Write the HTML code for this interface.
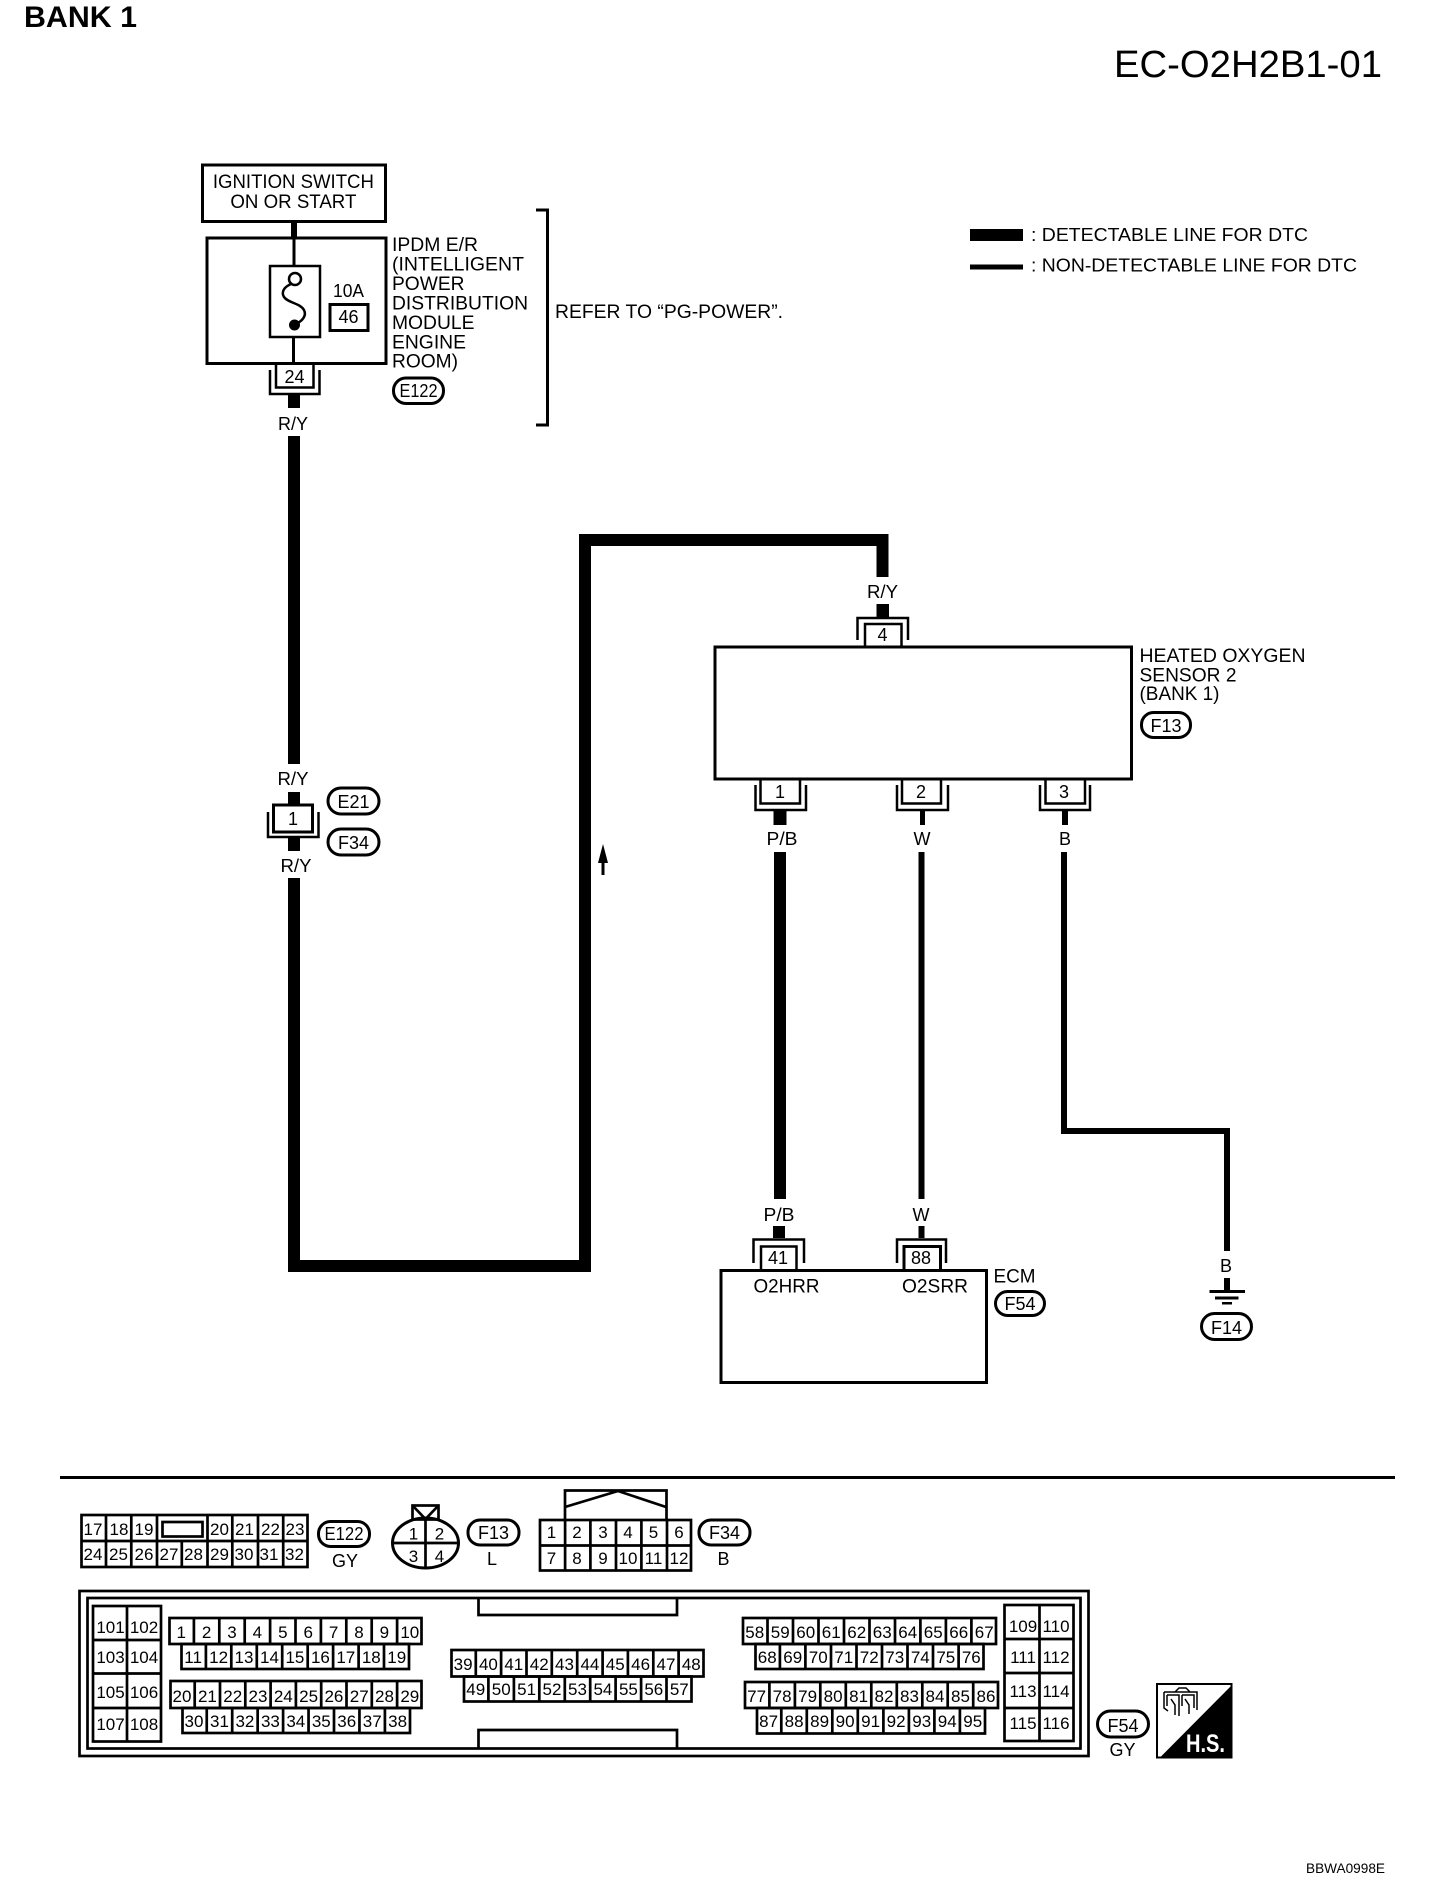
<!DOCTYPE html>
<html>
<head>
<meta charset="utf-8">
<title>EC-O2H2B1-01</title>
<style>
html,body{margin:0;padding:0;background:#fff;width:1440px;height:1904px;overflow:hidden}
svg{display:block}
text{font-family:"Liberation Sans",sans-serif;fill:#000}
.m{text-anchor:middle}
.n text{font-size:17px;text-anchor:middle}
.l{font-size:19px}
.c{font-size:18px;text-anchor:middle}
.g path,.g rect,.g ellipse{fill:none;stroke:#000;stroke-width:2.7}
.p{fill:#fff;stroke:#000;stroke-width:3}
</style>
</head>
<body>
<svg xmlns="http://www.w3.org/2000/svg" width="1440" height="1904" viewBox="0 0 1440 1904">
<rect width="1440" height="1904" fill="#fff"/>

<!-- Titles -->
<text x="24" y="27" font-size="30" font-weight="bold" textLength="113" lengthAdjust="spacingAndGlyphs">BANK 1</text>
<text x="1114" y="77" font-size="38" textLength="268" lengthAdjust="spacingAndGlyphs">EC-O2H2B1-01</text>

<!-- Legend -->
<rect x="970" y="229" width="53" height="12"/>
<rect x="970" y="264.5" width="53" height="5"/>
<text x="1031" y="241" font-size="18.5" textLength="277" lengthAdjust="spacingAndGlyphs">: DETECTABLE LINE FOR DTC</text>
<text x="1031" y="271.5" font-size="18.5" textLength="326" lengthAdjust="spacingAndGlyphs">: NON-DETECTABLE LINE FOR DTC</text>

<!-- Ignition switch -->
<rect x="202.5" y="165" width="183" height="56.5" fill="#fff" stroke="#000" stroke-width="3"/>
<text x="293.4" y="188" class="l m" textLength="161" lengthAdjust="spacingAndGlyphs">IGNITION SWITCH</text>
<text x="293.4" y="208" class="l m" textLength="126" lengthAdjust="spacingAndGlyphs">ON OR START</text>
<rect x="291" y="222" width="6" height="16"/>

<!-- IPDM -->
<rect x="207" y="238" width="179" height="125.5" fill="#fff" stroke="#000" stroke-width="3"/>
<rect x="292.5" y="238" width="3" height="28"/>
<rect x="270" y="266" width="50" height="71" fill="#fff" stroke="#000" stroke-width="2.5"/>
<rect x="292" y="337" width="3" height="27"/>
<circle cx="295" cy="279" r="6" fill="#fff" stroke="#000" stroke-width="2.5"/>
<path d="M291 284C284 287 281 292 284 297C288 303 300 303 304 310C307 316 302 321 296 324" fill="none" stroke="#000" stroke-width="2.5"/>
<circle cx="294.5" cy="325" r="5.5"/>
<text x="348.5" y="297" class="c" textLength="31" lengthAdjust="spacingAndGlyphs">10A</text>
<rect x="330" y="304.5" width="38" height="26" fill="#fff" stroke="#000" stroke-width="3"/>
<text x="348.5" y="323" class="c">46</text>

<!-- Connector 24 -->
<path d="M270 370V394H319.5V370" fill="none" stroke="#000" stroke-width="2.5"/>
<path d="M276 364V387.5H313.5V364" fill="none" stroke="#000" stroke-width="2.5"/>
<text x="294.5" y="383" class="c">24</text>
<rect x="288" y="395" width="12" height="13"/>
<text x="293" y="430" class="c" textLength="30" lengthAdjust="spacingAndGlyphs">R/Y</text>

<!-- IPDM label -->
<text x="392" y="251" class="l" textLength="86" lengthAdjust="spacingAndGlyphs">IPDM E/R</text>
<text x="392" y="270.5" class="l" textLength="132" lengthAdjust="spacingAndGlyphs">(INTELLIGENT</text>
<text x="392" y="290" class="l" textLength="72.5" lengthAdjust="spacingAndGlyphs">POWER</text>
<text x="392" y="309.5" class="l" textLength="136" lengthAdjust="spacingAndGlyphs">DISTRIBUTION</text>
<text x="392" y="329" class="l" textLength="82.5" lengthAdjust="spacingAndGlyphs">MODULE</text>
<text x="392" y="348.5" class="l" textLength="74" lengthAdjust="spacingAndGlyphs">ENGINE</text>
<text x="392" y="367.5" class="l" textLength="66" lengthAdjust="spacingAndGlyphs">ROOM)</text>
<rect x="393.5" y="378" width="50" height="25.5" rx="12.5" class="p"/>
<text x="418.5" y="397" class="c" textLength="38" lengthAdjust="spacingAndGlyphs">E122</text>

<!-- Bracket -->
<path d="M536 210H547.5V425H536" fill="none" stroke="#000" stroke-width="3"/>
<text x="555" y="318" class="l" textLength="228" lengthAdjust="spacingAndGlyphs">REFER TO “PG-POWER”.</text>

<!-- Main thick wire -->
<rect x="288" y="436" width="12" height="328"/>
<rect x="288" y="792" width="12" height="13"/>
<rect x="288" y="838" width="12" height="13"/>
<path d="M294 878V1266H585V540H882.5V577" fill="none" stroke="#000" stroke-width="12" stroke-linejoin="miter"/>

<!-- Inline connector 1 -->
<text x="293" y="785" class="c" textLength="31" lengthAdjust="spacingAndGlyphs">R/Y</text>
<path d="M268 812V837H318.5V812" fill="none" stroke="#000" stroke-width="2.5"/>
<rect x="273.5" y="805" width="39" height="27" fill="#fff" stroke="#000" stroke-width="3"/>
<text x="293" y="825" class="c">1</text>
<text x="296" y="872" class="c" textLength="31" lengthAdjust="spacingAndGlyphs">R/Y</text>
<rect x="328" y="788" width="51" height="26" rx="13" class="p"/>
<text x="353.5" y="808" class="c">E21</text>
<rect x="328" y="829" width="51" height="26" rx="13" class="p"/>
<text x="353.5" y="849" class="c">F34</text>

<!-- Arrow -->
<path d="M603 844L608 863H604.5V875H601.5V863H598Z"/>

<!-- R/Y top of sensor -->
<text x="882.5" y="598" class="c" textLength="31" lengthAdjust="spacingAndGlyphs">R/Y</text>
<rect x="876.5" y="604" width="12.5" height="13"/>
<path d="M857.5 640V618H908V640" fill="none" stroke="#000" stroke-width="2.5"/>
<path d="M865 647V624H901.5V647" fill="none" stroke="#000" stroke-width="2.5"/>
<text x="882.5" y="641" class="c">4</text>

<!-- Sensor box -->
<rect x="715" y="647" width="416.5" height="132" fill="#fff" stroke="#000" stroke-width="3"/>
<text x="1139.5" y="662" class="l" textLength="166" lengthAdjust="spacingAndGlyphs">HEATED OXYGEN</text>
<text x="1139.5" y="681.5" class="l" textLength="97" lengthAdjust="spacingAndGlyphs">SENSOR 2</text>
<text x="1139.5" y="700" class="l" textLength="80" lengthAdjust="spacingAndGlyphs">(BANK 1)</text>
<rect x="1141.5" y="712.5" width="49" height="25" rx="12" class="p"/>
<text x="1166" y="732" class="c">F13</text>

<!-- Sensor bottom connectors -->
<path d="M755.5 785V810H806V785" fill="none" stroke="#000" stroke-width="2.5"/>
<path d="M760.5 780V803.5H800V780" fill="none" stroke="#000" stroke-width="2.5"/>
<text x="780" y="798" class="c">1</text>
<path d="M897 785V810H948V785" fill="none" stroke="#000" stroke-width="2.5"/>
<path d="M902 780V803.5H941V780" fill="none" stroke="#000" stroke-width="2.5"/>
<text x="921" y="798" class="c">2</text>
<path d="M1040 785V810H1090V785" fill="none" stroke="#000" stroke-width="2.5"/>
<path d="M1045.5 780V803.5H1085V780" fill="none" stroke="#000" stroke-width="2.5"/>
<text x="1064" y="798" class="c">3</text>

<rect x="773.5" y="811" width="13" height="14"/>
<rect x="920" y="811" width="5" height="14"/>
<rect x="1062" y="811" width="6" height="14"/>
<text x="782" y="845" class="c" textLength="31" lengthAdjust="spacingAndGlyphs">P/B</text>
<text x="922" y="845" class="c">W</text>
<text x="1065" y="845" class="c">B</text>

<!-- Wires to ECM and ground -->
<rect x="774" y="852" width="12" height="347"/>
<rect x="918.5" y="852" width="6" height="347"/>
<path d="M1064 852V1131H1227V1251" fill="none" stroke="#000" stroke-width="6"/>
<text x="779" y="1221" class="c" textLength="31" lengthAdjust="spacingAndGlyphs">P/B</text>
<text x="921" y="1221" class="c">W</text>
<rect x="773" y="1226" width="12" height="12"/>
<rect x="918.5" y="1226" width="6" height="12"/>

<path d="M753.5 1263V1239.5H804V1263" fill="none" stroke="#000" stroke-width="2.5"/>
<path d="M761 1270V1246.5H796.5V1270" fill="none" stroke="#000" stroke-width="2.5"/>
<text x="778" y="1264" class="c">41</text>
<path d="M897 1263V1239.5H946V1263" fill="none" stroke="#000" stroke-width="2.5"/>
<path d="M904 1270V1246.5H940.5V1270" fill="none" stroke="#000" stroke-width="3"/>
<text x="921" y="1264" class="c">88</text>

<!-- ECM -->
<rect x="721" y="1270.5" width="265.5" height="112" fill="#fff" stroke="#000" stroke-width="3"/>
<text x="786.5" y="1292.5" class="l m" textLength="66" lengthAdjust="spacingAndGlyphs">O2HRR</text>
<text x="935" y="1292.5" class="l m" textLength="66" lengthAdjust="spacingAndGlyphs">O2SRR</text>
<text x="993.5" y="1282.5" class="l" textLength="42" lengthAdjust="spacingAndGlyphs">ECM</text>
<rect x="995.5" y="1291.5" width="49" height="24" rx="12" class="p"/>
<text x="1020" y="1310" class="c">F54</text>

<!-- Ground -->
<text x="1226" y="1272" class="c">B</text>
<rect x="1224" y="1278" width="6" height="13"/>
<rect x="1209.5" y="1290" width="35.5" height="3"/>
<rect x="1215" y="1296.5" width="23.5" height="3"/>
<rect x="1222" y="1302" width="10" height="2.5"/>
<rect x="1201.5" y="1313.5" width="50" height="26" rx="13" class="p"/>
<text x="1226.5" y="1334" class="c">F14</text>

<!-- Divider -->
<rect x="60" y="1476" width="1335" height="3"/>

<!-- E122 connector -->
<g class="g">
<rect x="81.5" y="1515" width="226" height="52"/>
<path d="M81.5 1541H307.5M106 1515V1567M131.3 1515V1567M157 1515V1567M181.8 1541V1567M207.5 1515V1567M232.3 1515V1567M258 1515V1567M283.2 1515V1567"/>
<rect x="162.5" y="1522" width="40" height="14.5" stroke-width="3"/>
</g>
<g class="n">
<text x="93" y="1535">17</text><text x="119" y="1535">18</text><text x="144" y="1535">19</text><text x="219.5" y="1535">20</text><text x="244.5" y="1535">21</text><text x="270.5" y="1535">22</text><text x="295" y="1535">23</text>
<text x="93" y="1560">24</text><text x="118.5" y="1560">25</text><text x="144" y="1560">26</text><text x="169" y="1560">27</text><text x="193.5" y="1560">28</text><text x="219.5" y="1560">29</text><text x="244" y="1560">30</text><text x="269" y="1560">31</text><text x="294.5" y="1560">32</text>
</g>
<rect x="318.5" y="1521.5" width="51" height="25" rx="12" class="p"/>
<text x="344" y="1540" class="c" textLength="39" lengthAdjust="spacingAndGlyphs">E122</text>
<text x="345" y="1567" class="c" font-size="20">GY</text>

<!-- F13 connector -->
<g class="g">
<rect x="412.5" y="1505.5" width="26" height="14"/>
<path d="M412.5 1505.5L425.5 1519L438.5 1505.5"/>
<ellipse cx="425.5" cy="1543" rx="33" ry="25" style="stroke-width:3"/>
<path d="M425.5 1518V1568M392.5 1543H458.5"/>
</g>
<g class="n">
<text x="413.5" y="1539.5">1</text><text x="439.5" y="1539.5">2</text><text x="413.5" y="1562">3</text><text x="439.5" y="1562">4</text>
</g>
<rect x="468" y="1520" width="51" height="25" rx="12" class="p"/>
<text x="493.5" y="1539" class="c">F13</text>
<text x="492" y="1565" class="c">L</text>

<!-- F34 connector -->
<g class="g">
<path d="M565 1519V1490.5H666.5V1519M565 1507L618 1491L666 1507"/>
<rect x="540" y="1520" width="151" height="50.5"/>
<path d="M540 1545.5H691M565.1 1520V1570.5M590.4 1520V1570.5M616 1520V1570.5M641.4 1520V1570.5M667 1520V1570.5"/>
</g>
<g class="n">
<text x="551.5" y="1538">1</text><text x="577" y="1538">2</text><text x="603" y="1538">3</text><text x="628" y="1538">4</text><text x="653.5" y="1538">5</text><text x="679" y="1538">6</text>
<text x="551.5" y="1564">7</text><text x="577" y="1564">8</text><text x="603" y="1564">9</text><text x="628" y="1564">10</text><text x="653.5" y="1564">11</text><text x="679" y="1564">12</text>
</g>
<rect x="699" y="1520" width="51" height="25" rx="12" class="p"/>
<text x="724.5" y="1539" class="c">F34</text>
<text x="723.5" y="1565" class="c">B</text>

<!-- F54 connector housing -->
<g class="g">
<rect x="79.5" y="1591" width="1009" height="165" stroke-width="3"/>
<rect x="87.5" y="1598" width="993" height="150.5" stroke-width="3"/>
<path d="M478.5 1598V1615H677V1598M478.5 1748V1730H677V1748"/>

<!-- Left block -->
<rect x="93" y="1606" width="68" height="135.5" stroke-width="3"/>
<path d="M127 1606V1741.5M93 1640H161M93 1673.5H161M93 1708H161"/>

<!-- Right block -->
<rect x="1004.5" y="1605" width="69" height="136" stroke-width="3"/>
<path d="M1039.5 1605V1741M1004.5 1639H1073.5M1004.5 1673H1073.5M1004.5 1708H1073.5"/>

<!-- A -->
<rect x="169.5" y="1618" width="252" height="26"/>
<rect x="181.5" y="1644" width="227.5" height="25"/>
<path d="M193.9 1618V1644M219.3 1618V1644M244.7 1618V1644M270.1 1618V1644M295.5 1618V1644M320.9 1618V1644M346.3 1618V1644M371.7 1618V1644M397.1 1618V1644"/>
<path d="M205.9 1644V1669M231.3 1644V1669M256.8 1644V1669M282.2 1644V1669M307.7 1644V1669M333.1 1644V1669M358.6 1644V1669M384 1644V1669"/>
<!-- B -->
<rect x="170.5" y="1681" width="251" height="27"/>
<rect x="182.5" y="1708" width="227.5" height="25"/>
<path d="M194.7 1681V1708M220 1681V1708M245.3 1681V1708M270.6 1681V1708M295.9 1681V1708M321.2 1681V1708M346.5 1681V1708M371.8 1681V1708M397.1 1681V1708"/>
<path d="M206.75 1708V1733M232.2 1708V1733M257.65 1708V1733M283.1 1708V1733M308.55 1708V1733M334 1708V1733M359.45 1708V1733M384.9 1708V1733"/>
<!-- C -->
<rect x="451.5" y="1650" width="252" height="26.5"/>
<rect x="464" y="1676.5" width="227.5" height="25"/>
<path d="M475.8 1650V1676.5M501.1 1650V1676.5M526.5 1650V1676.5M551.8 1650V1676.5M577.2 1650V1676.5M602.6 1650V1676.5M627.9 1650V1676.5M653.3 1650V1676.5M678.6 1650V1676.5"/>
<path d="M488.4 1676.5V1701.5M513.9 1676.5V1701.5M539.3 1676.5V1701.5M564.8 1676.5V1701.5M590.2 1676.5V1701.5M615.6 1676.5V1701.5M641.1 1676.5V1701.5M666.5 1676.5V1701.5"/>
<!-- D -->
<rect x="743" y="1618" width="253" height="26"/>
<rect x="755.5" y="1644" width="228" height="25"/>
<path d="M767.5 1618V1644M793 1618V1644M818.5 1618V1644M844 1618V1644M869.5 1618V1644M895 1618V1644M920.4 1618V1644M945.9 1618V1644M971.4 1618V1644"/>
<path d="M779.9 1644V1669M805.4 1644V1669M831 1644V1669M856.5 1644V1669M882 1644V1669M907.5 1644V1669M933 1644V1669M958.6 1644V1669"/>
<!-- E -->
<rect x="745" y="1682" width="253" height="26"/>
<rect x="757" y="1708" width="228" height="25.5"/>
<path d="M769.4 1682V1708M794.9 1682V1708M820.3 1682V1708M845.8 1682V1708M871.3 1682V1708M896.8 1682V1708M922.3 1682V1708M947.7 1682V1708M973.2 1682V1708"/>
<path d="M781.3 1708V1733.5M806.8 1708V1733.5M832.3 1708V1733.5M857.8 1708V1733.5M883.4 1708V1733.5M908.9 1708V1733.5M934.4 1708V1733.5M959.9 1708V1733.5"/>
</g>

<g class="n">
<!-- Left block labels -->
<text x="110.5" y="1633">101</text><text x="144" y="1633">102</text>
<text x="110.5" y="1663">103</text><text x="144" y="1663">104</text>
<text x="110.5" y="1698">105</text><text x="144" y="1698">106</text>
<text x="110.5" y="1730">107</text><text x="144" y="1730">108</text>
<!-- Right block labels -->
<text x="1023" y="1632">109</text><text x="1056" y="1632">110</text>
<text x="1023" y="1663">111</text><text x="1056" y="1663">112</text>
<text x="1023" y="1697">113</text><text x="1056" y="1697">114</text>
<text x="1023" y="1729">115</text><text x="1056" y="1729">116</text>
<!-- A1 -->
<text x="181.2" y="1638">1</text><text x="206.6" y="1638">2</text><text x="232" y="1638">3</text><text x="257.4" y="1638">4</text><text x="282.8" y="1638">5</text><text x="308.2" y="1638">6</text><text x="333.6" y="1638">7</text><text x="359" y="1638">8</text><text x="384.4" y="1638">9</text><text x="409.8" y="1638">10</text>
<!-- A2 -->
<text x="193.1" y="1663">11</text><text x="218.6" y="1663">12</text><text x="244" y="1663">13</text><text x="269.5" y="1663">14</text><text x="294.9" y="1663">15</text><text x="320.4" y="1663">16</text><text x="345.8" y="1663">17</text><text x="371.3" y="1663">18</text><text x="396.7" y="1663">19</text>
<!-- B1 -->
<text x="182" y="1702">20</text><text x="207.4" y="1702">21</text><text x="232.7" y="1702">22</text><text x="258" y="1702">23</text><text x="283.3" y="1702">24</text><text x="308.6" y="1702">25</text><text x="333.9" y="1702">26</text><text x="359.2" y="1702">27</text><text x="384.5" y="1702">28</text><text x="409.8" y="1702">29</text>
<!-- B2 -->
<text x="194" y="1727">30</text><text x="219.5" y="1727">31</text><text x="244.9" y="1727">32</text><text x="270.4" y="1727">33</text><text x="295.8" y="1727">34</text><text x="321.3" y="1727">35</text><text x="346.7" y="1727">36</text><text x="372.2" y="1727">37</text><text x="397.6" y="1727">38</text>
<!-- C1 -->
<text x="463.1" y="1670">39</text><text x="488.4" y="1670">40</text><text x="513.8" y="1670">41</text><text x="539.2" y="1670">42</text><text x="564.5" y="1670">43</text><text x="589.9" y="1670">44</text><text x="615.2" y="1670">45</text><text x="640.6" y="1670">46</text><text x="666" y="1670">47</text><text x="691.3" y="1670">48</text>
<!-- C2 -->
<text x="475.7" y="1695">49</text><text x="501.2" y="1695">50</text><text x="526.6" y="1695">51</text><text x="552" y="1695">52</text><text x="577.5" y="1695">53</text><text x="602.9" y="1695">54</text><text x="628.4" y="1695">55</text><text x="653.8" y="1695">56</text><text x="679.3" y="1695">57</text>
<!-- D1 -->
<text x="754.7" y="1638">58</text><text x="780.2" y="1638">59</text><text x="805.7" y="1638">60</text><text x="831.2" y="1638">61</text><text x="856.7" y="1638">62</text><text x="882.2" y="1638">63</text><text x="907.7" y="1638">64</text><text x="933.2" y="1638">65</text><text x="958.7" y="1638">66</text><text x="984.2" y="1638">67</text>
<!-- D2 -->
<text x="767.2" y="1663">68</text><text x="792.7" y="1663">69</text><text x="818.2" y="1663">70</text><text x="843.7" y="1663">71</text><text x="869.2" y="1663">72</text><text x="894.7" y="1663">73</text><text x="920.3" y="1663">74</text><text x="945.8" y="1663">75</text><text x="971.3" y="1663">76</text>
<!-- E1 -->
<text x="756.6" y="1702">77</text><text x="782.1" y="1702">78</text><text x="807.6" y="1702">79</text><text x="833.1" y="1702">80</text><text x="858.6" y="1702">81</text><text x="884" y="1702">82</text><text x="909.5" y="1702">83</text><text x="935" y="1702">84</text><text x="960.5" y="1702">85</text><text x="986" y="1702">86</text>
<!-- E2 -->
<text x="768.6" y="1727">87</text><text x="794.1" y="1727">88</text><text x="819.6" y="1727">89</text><text x="845.1" y="1727">90</text><text x="870.6" y="1727">91</text><text x="896.1" y="1727">92</text><text x="921.7" y="1727">93</text><text x="947.2" y="1727">94</text><text x="972.7" y="1727">95</text>
</g>

<!-- F54 tag -->
<rect x="1097.5" y="1711" width="51" height="26" rx="13" class="p"/>
<text x="1123" y="1732" class="c" font-size="19">F54</text>
<text x="1122.5" y="1756" class="c" font-size="20">GY</text>

<!-- H.S. icon -->
<rect x="1157" y="1684" width="74.5" height="73.5" fill="#fff" stroke="#000" stroke-width="2"/>
<path d="M1231.5 1685.5L1231.5 1757.5L1160 1757.5Z"/>
<text x="1186" y="1752" font-size="25" font-weight="bold" textLength="39" lengthAdjust="spacingAndGlyphs" style="fill:#fff">H.S.</text>
<g fill="none" stroke="#000" stroke-width="1.5">
<path d="M1164 1692H1197V1700M1164 1692V1708L1168 1711M1197 1700V1710"/>
<path d="M1175 1692L1179 1688H1186L1190 1692"/>
<path d="M1167 1695V1706M1167 1695H1179V1706M1182 1695H1194V1708M1182 1695V1706"/>
<path d="M1171 1699L1175 1705V1715M1185 1699L1189 1705V1714M1179 1706V1716"/>
</g>

<!-- Footer -->
<text x="1306" y="1873" font-size="13.5" textLength="79" lengthAdjust="spacingAndGlyphs">BBWA0998E</text>
</svg>
</body>
</html>
